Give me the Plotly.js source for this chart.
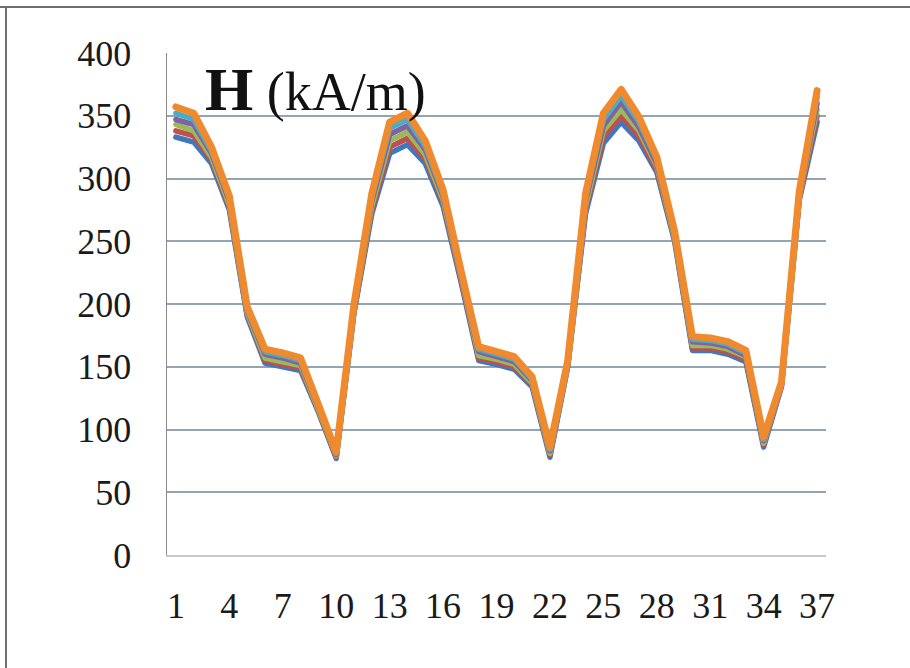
<!DOCTYPE html>
<html>
<head>
<meta charset="utf-8">
<script src="https://cdn.plot.ly/plotly-3.0.1.min.js"></script>
<style>
  html, body { margin: 0; padding: 0; background: #ffffff; }
  #chart { width: 910px; height: 668px; }
  .scatterlayer path.js-line { stroke-linejoin: round; stroke-linecap: round; }
</style>
</head>
<body>
<div id="chart"></div>
<script>
// Position index along the sample (1..37)
const positions = [1,2,3,4,5,6,7,8,9,10,11,12,13,14,15,16,17,18,19,20,21,22,23,24,25,26,27,28,29,30,31,32,33,34,35,36,37];
const tickPositions = [1,4,7,10,13,16,19,22,25,28,31,34,37];
const tickLabels = ["1","4","7","10","13","16","19","22","25","28","31","34","37"];

// Field strength H (kA/m), one curve per case
const seriesBlue   = [333,329,312,275,190,153,150,147,114,77,193,272,320,327,312,278,218,155,152,148,134,78,150,272,328,345,330,305,250,163,163,160,154,86,134,283,345];
const seriesRed    = [338,334,315,277,192,155,152,149,115,78,194,275,325,332,316,281,220,157,154,150,136,80,151,275,333,350,334,307,252,165,165,162,156,88,135,284,350];
const seriesGreen  = [343,338,317,279,193,157,154,151,116,79,196,278,330,337,319,283,222,159,156,152,137,81,152,278,338,355,338,310,253,167,167,164,158,89,136,286,355];
const seriesPurple = [347,343,320,282,195,160,157,153,118,80,197,282,335,342,323,286,223,162,158,154,139,83,153,282,342,361,341,312,255,170,169,166,159,91,136,287,360];
const seriesCyan   = [352,347,322,284,196,162,159,155,119,81,199,285,340,347,326,288,225,164,160,156,140,84,154,285,347,366,345,315,256,172,171,168,161,92,137,289,365];
const seriesOrange = [357,352,325,286,198,164,161,157,120,82,200,288,345,352,330,291,227,166,162,158,142,86,155,288,352,371,349,317,258,174,173,170,163,94,138,290,370];

const seriesList = [seriesBlue, seriesRed, seriesGreen, seriesPurple, seriesCyan, seriesOrange];
const colors = ["#3f78bd", "#c0504d", "#9bbb59", "#8064a2", "#4bacc6", "#ef8a2e"];

const traces = seriesList.map((ys, i) => ({
  x: positions,
  y: ys,
  type: "scatter",
  mode: "lines",
  line: { color: colors[i], width: i === 5 ? 7 : 5.5 },
  hoverinfo: "skip",
  showlegend: false
}));

const serif = "Liberation Serif, Times New Roman, serif";

const layout = {
  width: 910,
  height: 668,
  margin: { l: 167, r: 84, t: 53, b: 113 },
  paper_bgcolor: "#ffffff",
  plot_bgcolor: "#ffffff",
  showlegend: false,
  xaxis: {
    range: [0.5, 37.5],
    tickvals: tickPositions,
    ticktext: tickLabels,
    ticks: "",
    showgrid: false,
    zeroline: false,
    showline: true,
    linecolor: "#c8c8c8",
    linewidth: 1.5,
    ticklabelstandoff: 18,
    tickfont: { family: serif, size: 36, color: "#1a1a1a" }
  },
  yaxis: {
    range: [0, 400],
    tickvals: [0,50,100,150,200,250,300,350,400],
    ticks: "",
    showgrid: true,
    gridcolor: "#93a4b4",
    gridwidth: 2,
    zeroline: false,
    showline: true,
    linecolor: "#8a8a8a",
    linewidth: 1.5,
    ticklabelstandoff: 27,
    tickfont: { family: serif, size: 36, color: "#1a1a1a" }
  },
  annotations: [{
    xref: "paper", yref: "paper",
    x: 0.055, y: 0.929,
    xanchor: "left", yanchor: "middle",
    showarrow: false,
    text: "<span style='font-size:62px'><b>H</b></span> (kA/m)",
    font: { family: serif, size: 54, color: "#111111" }
  }],
  shapes: [
    { type: "line", xref: "paper", yref: "paper", x0: -167/659, x1: 743/659, y0: (555-7)/502, y1: (555-7)/502,
      line: { color: "#6e6e6e", width: 2 } },
    { type: "line", xref: "paper", yref: "paper", x0: (6-167)/659, x1: (6-167)/659, y0: (555-7)/502, y1: -113/502,
      line: { color: "#6e6e6e", width: 2 } }
  ]
};

Plotly.newPlot("chart", traces, layout, { staticPlot: true, displayModeBar: false });
</script>
</body>
</html>
